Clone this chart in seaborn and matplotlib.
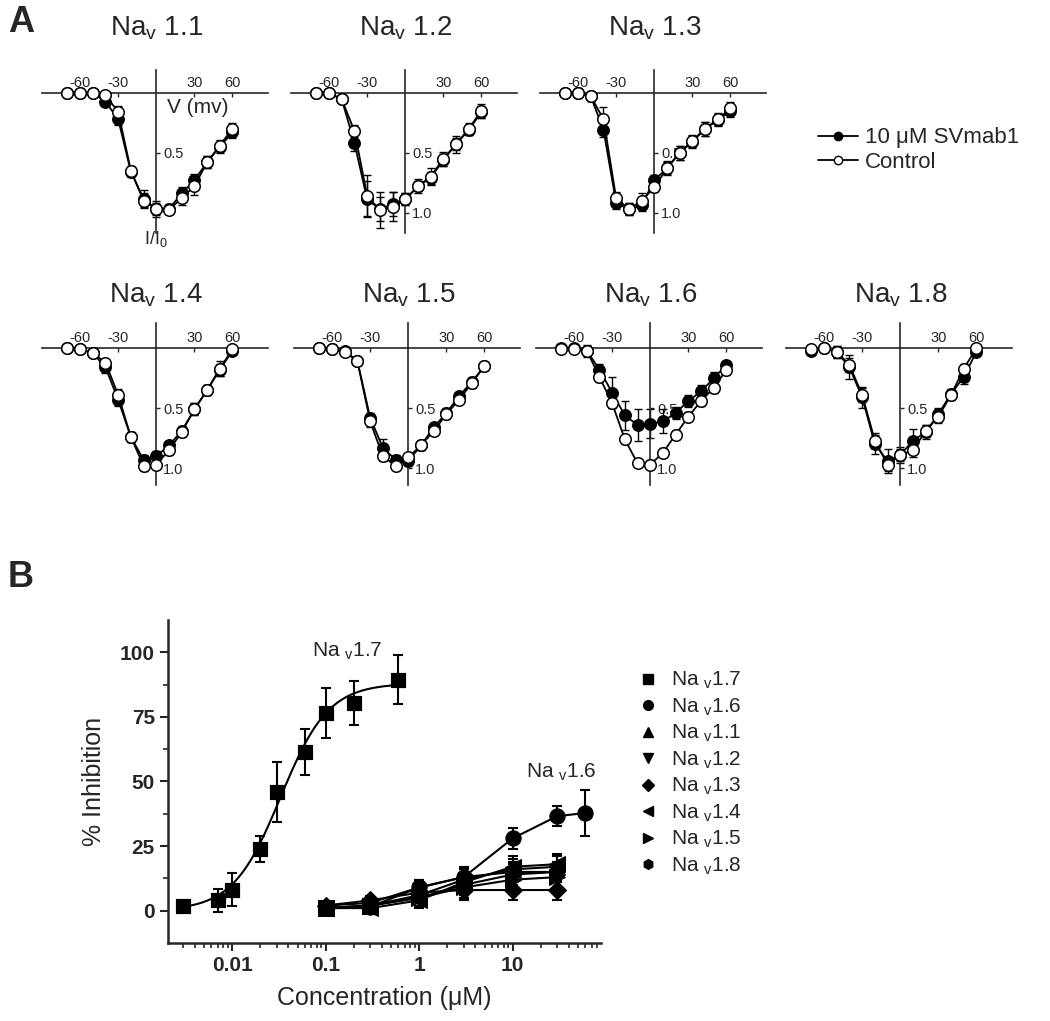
import numpy as np
import matplotlib
matplotlib.use("Agg")
import matplotlib.pyplot as plt
import matplotlib.transforms as mtransforms
from matplotlib.lines import Line2D
import seaborn as sns

sns.set_theme(style="ticks")
plt.rcParams['font.family'] = ['Liberation Sans', 'DejaVu Sans']
plt.rcParams['mathtext.fontset'] = 'custom'
plt.rcParams['mathtext.rm'] = 'Liberation Sans'
plt.rcParams['mathtext.it'] = 'Liberation Sans:italic'
plt.rcParams['mathtext.bf'] = 'Liberation Sans:bold'

# ---------------- Panel A data (normalised current I/I0) ----------------
voltages = [-70, -60, -50, -40, -30, -20, -10, 0, 10, 20, 30, 40, 50, 60]

nav11_ctrl = [0.0, 0.0, 0.0, 0.02, 0.16, 0.65, 0.90, 0.97, 0.975, 0.88, 0.78, 0.58, 0.44, 0.30]
nav11_ctrl_err = [0, 0, 0, 0.03, 0.05, 0.04, 0.06, 0.05, 0.04, 0.06, 0.07, 0.05, 0.05, 0.05]
nav11_sv = [0.0, 0.0, 0.0, 0.075, 0.22, 0.66, 0.885, 0.97, 0.97, 0.84, 0.73, 0.58, 0.45, 0.33]
nav11_sv_err = [0, 0, 0, 0.03, 0.05, 0.04, 0.07, 0.07, 0.04, 0.05, 0.05, 0.05, 0.05, 0.05]

nav12_ctrl = [0.0, 0.0, 0.056, 0.32, 0.86, 0.98, 0.95, 0.89, 0.78, 0.70, 0.55, 0.43, 0.30, 0.15]
nav12_ctrl_err = [0, 0, 0.03, 0.05, 0.17, 0.15, 0.12, 0.05, 0.06, 0.07, 0.06, 0.07, 0.05, 0.06]
nav12_sv = [0.0, 0.0, 0.056, 0.42, 0.89, 0.97, 0.93, 0.89, 0.78, 0.71, 0.56, 0.43, 0.31, 0.16]
nav12_sv_err = [0, 0, 0.03, 0.07, 0.15, 0.10, 0.10, 0.05, 0.04, 0.05, 0.05, 0.05, 0.04, 0.05]

nav13_ctrl = [0.0, 0.0, 0.03, 0.22, 0.88, 0.97, 0.90, 0.79, 0.63, 0.50, 0.40, 0.30, 0.22, 0.13]
nav13_ctrl_err = [0, 0.04, 0.04, 0.10, 0.05, 0.05, 0.06, 0.04, 0.06, 0.06, 0.05, 0.06, 0.05, 0.05]
nav13_sv = [0.0, 0.0, 0.03, 0.31, 0.92, 0.97, 0.94, 0.73, 0.63, 0.50, 0.41, 0.30, 0.23, 0.15]
nav13_sv_err = [0, 0.03, 0.04, 0.06, 0.05, 0.05, 0.05, 0.04, 0.05, 0.06, 0.05, 0.06, 0.05, 0.05]

nav14_ctrl = [0.0, 0.01, 0.04, 0.12, 0.39, 0.74, 0.98, 0.97, 0.85, 0.70, 0.51, 0.35, 0.17, 0.01]
nav14_ctrl_err = [0, 0.02, 0.03, 0.03, 0.05, 0.04, 0.04, 0.04, 0.04, 0.04, 0.05, 0.04, 0.06, 0.02]
nav14_sv = [0.0, 0.01, 0.04, 0.16, 0.43, 0.74, 0.93, 0.90, 0.81, 0.69, 0.51, 0.35, 0.18, 0.02]
nav14_sv_err = [0, 0.02, 0.03, 0.05, 0.05, 0.04, 0.04, 0.04, 0.04, 0.04, 0.05, 0.04, 0.05, 0.02]

nav15_ctrl = [0.0, 0.01, 0.03, 0.11, 0.61, 0.90, 0.98, 0.91, 0.81, 0.69, 0.55, 0.43, 0.29, 0.15]
nav15_ctrl_err = [0, 0, 0.03, 0.03, 0.05, 0.04, 0.03, 0.04, 0.04, 0.03, 0.04, 0.03, 0.04, 0.02]
nav15_sv = [0.0, 0.01, 0.02, 0.11, 0.58, 0.83, 0.93, 0.94, 0.81, 0.66, 0.54, 0.40, 0.28, 0.15]
nav15_sv_err = [0, 0, 0.03, 0.03, 0.04, 0.07, 0.04, 0.04, 0.04, 0.03, 0.04, 0.03, 0.04, 0.02]

nav16_ctrl = [0.01, 0.01, 0.02, 0.24, 0.46, 0.76, 0.96, 0.97, 0.87, 0.72, 0.57, 0.44, 0.33, 0.18]
nav16_ctrl_err = [0, 0.02, 0.03, 0.04, 0.04, 0.04, 0.03, 0.04, 0.04, 0.04, 0.04, 0.04, 0.04, 0.04]
nav16_sv = [0.0, 0.0, 0.02, 0.18, 0.37, 0.56, 0.64, 0.63, 0.61, 0.54, 0.44, 0.36, 0.25, 0.14]
nav16_sv_err = [0, 0.02, 0.05, 0.05, 0.13, 0.12, 0.13, 0.12, 0.10, 0.05, 0.05, 0.05, 0.05, 0.03]

nav18_ctrl = [0.01, 0.0, 0.03, 0.14, 0.39, 0.77, 0.97, 0.89, 0.85, 0.69, 0.57, 0.39, 0.17, 0.0]
nav18_ctrl_err = [0, 0.01, 0.05, 0.06, 0.06, 0.06, 0.05, 0.05, 0.06, 0.05, 0.05, 0.04, 0.04, 0.02]
nav18_sv = [0.02, 0.0, 0.03, 0.16, 0.41, 0.80, 0.94, 0.89, 0.77, 0.70, 0.55, 0.38, 0.24, 0.03]
nav18_sv_err = [0, 0.02, 0.05, 0.10, 0.09, 0.08, 0.10, 0.07, 0.10, 0.06, 0.05, 0.04, 0.06, 0.03]

# ---------------- Panel B data (% inhibition) ----------------
conc_17 = [0.003, 0.007, 0.01, 0.02, 0.03, 0.06, 0.1, 0.2, 0.6]
inh_17 = [2, 4, 8.2, 24, 46, 61.5, 76.4, 80.3, 89.4]
err_17 = [1, 4.5, 6.5, 5, 11.5, 9, 9.7, 8.4, 9.5]
hill_top, hill_ic50, hill_n = 88.0, 0.033, 1.7

conc_16 = [0.1, 0.3, 1, 3, 10, 30, 60]
inh_16 = [1, 1.5, 9, 13, 28, 36.6, 37.8]
err_16 = [1, 1, 3, 4, 4, 4, 9]

conc_other = [0.1, 0.3, 1, 3, 10, 30]
inh_11 = [1, 2, 6, 12, 16, 17]
inh_12 = [1, 2, 5, 10, 14, 15]
inh_13 = [2, 4, 7, 8, 8, 8]
inh_14 = [1, 1, 4, 11, 17, 18]
inh_15 = [1, 2, 5, 9, 12, 13]
inh_18 = [2, 3, 9, 13, 15, 15]
err_other = [1, 1.5, 3, 4, 4, 4]

# ---------------- Figure ----------------
W, H = 1050, 1021
fig = plt.figure(figsize=(W / 100, H / 100), dpi=100)
fig.patch.set_facecolor('white')

XMIN, XMAX = -90, 88
AX_W = 226

panelA = [
    ("1.1", nav11_ctrl, nav11_ctrl_err, nav11_sv, nav11_sv_err, 42, 70, 163, (1.17, -0.19)),
    ("1.2", nav12_ctrl, nav12_ctrl_err, nav12_sv, nav12_sv_err, 291, 70, 163, (1.17, -0.19)),
    ("1.3", nav13_ctrl, nav13_ctrl_err, nav13_sv, nav13_sv_err, 540, 70, 163, (1.17, -0.19)),
    ("1.4", nav14_ctrl, nav14_ctrl_err, nav14_sv, nav14_sv_err, 42, 323, 162, (1.14, -0.21)),
    ("1.5", nav15_ctrl, nav15_ctrl_err, nav15_sv, nav15_sv_err, 294, 323, 162, (1.14, -0.21)),
    ("1.6", nav16_ctrl, nav16_ctrl_err, nav16_sv, nav16_sv_err, 536, 323, 162, (1.14, -0.21)),
    ("1.8", nav18_ctrl, nav18_ctrl_err, nav18_sv, nav18_sv_err, 786, 323, 162, (1.14, -0.21)),
]

for name, ctrl, ctrl_err, sv, sv_err, left, top, hgt, ylim in panelA:
    ax = fig.add_axes([left / W, 1 - (top + hgt) / H, AX_W / W, hgt / H])
    ax.set_facecolor('none')
    ax.errorbar(voltages, sv, yerr=sv_err, fmt='none', ecolor='black',
                elinewidth=1.0, capsize=2.8, capthick=1.0, zorder=2)
    ax.errorbar(voltages, ctrl, yerr=ctrl_err, fmt='none', ecolor='black',
                elinewidth=1.0, capsize=2.8, capthick=1.0, zorder=2)
    sns.lineplot(x=voltages, y=sv, ax=ax, color='black', lw=1.3, marker='o',
                 markersize=8.3, markerfacecolor='black', markeredgecolor='black',
                 markeredgewidth=1.0, zorder=3)
    sns.lineplot(x=voltages, y=ctrl, ax=ax, color='black', lw=1.3, marker='o',
                 markersize=8.3, markerfacecolor='white', markeredgecolor='black',
                 markeredgewidth=1.1, zorder=4)
    ax.set_xlim(XMIN, XMAX)
    ax.set_ylim(*ylim)
    for s in ['bottom', 'left']:
        ax.spines[s].set_visible(False)
    ax.spines['top'].set_position(('data', 0))
    ax.spines['right'].set_position(('data', 0))
    ax.spines['top'].set_linewidth(1.2)
    ax.spines['right'].set_linewidth(1.2)
    ax.xaxis.set_ticks_position('top')
    ax.yaxis.set_ticks_position('right')
    ax.set_xticks([-60, -30, 30, 60])
    ax.set_xticklabels(['-60', '-30', '30', '60'])
    ax.set_yticks([0.5, 1.0])
    if name == "1.1":
        ax.set_yticklabels(['0.5', ''])
    else:
        ax.set_yticklabels(['0.5', '1.0'])
    ax.tick_params(axis='x', direction='in', length=3, width=1, labelsize=10.5, pad=2)
    ax.tick_params(axis='y', direction='out', length=3, width=1, labelsize=10.5, pad=2)
    ax.set_xlabel('')
    ax.set_ylabel('')
    tr = mtransforms.blended_transform_factory(ax.transData, fig.transFigure)
    ty = 28 if top < 200 else 295
    ax.text(0, 1 - ty / H, r'Na$_\mathregular{v}$ ' + name, transform=tr,
            ha='center', va='center', fontsize=20)
    if name == "1.1":
        ax.text(33, 0.125, 'V (mv)', ha='center', va='center', fontsize=15)
        ax.text(0, 1.22, r'I/I$_\mathregular{0}$', ha='center', va='center',
                fontsize=13, clip_on=False)

handlesA = [
    Line2D([], [], color='black', lw=1.3, marker='o', markersize=6,
           markerfacecolor='black', markeredgecolor='black'),
    Line2D([], [], color='black', lw=1.3, marker='o', markersize=6,
           markerfacecolor='white', markeredgecolor='black'),
]
fig.legend(handlesA, [u'10 \u03bcM SVmab1', 'Control'], loc='center left',
           bbox_to_anchor=(818 / W, 1 - 150 / H), frameon=False, fontsize=16,
           handlelength=1.8, handletextpad=0.3, labelspacing=0.15,
           borderaxespad=0, borderpad=0)

# ---------------- Panel B ----------------
axB = fig.add_axes([168 / W, 1 - 943 / H, 433 / W, 323 / H])
axB.set_facecolor('none')
axB.set_xscale('log')

others = [
    (conc_other, inh_11, err_other, '^'),
    (conc_other, inh_12, err_other, 'v'),
    (conc_other, inh_13, err_other, 'D'),
    (conc_other, inh_14, err_other, '<'),
    (conc_other, inh_15, err_other, '>'),
    (conc_other, inh_18, err_other, 'h'),
    (conc_16, inh_16, err_16, 'o'),
]
for c, v, e, m in others:
    axB.errorbar(c, v, yerr=e, fmt='none', ecolor='black', elinewidth=1.5,
                 capsize=3.5, capthick=1.5, zorder=2)
    ms = 9 if m == 'D' else 11
    sns.lineplot(x=c, y=v, ax=axB, color='black', lw=1.5, marker=m,
                 markersize=ms, markerfacecolor='black', markeredgecolor='black', zorder=3)

fit_x = np.logspace(np.log10(conc_17[0]), np.log10(conc_17[-1]), 200)
fit_y = hill_top / (1 + (hill_ic50 / fit_x) ** hill_n)
sns.lineplot(x=fit_x, y=fit_y, ax=axB, color='black', lw=1.5, zorder=2)
axB.errorbar(conc_17, inh_17, yerr=err_17, fmt='none', ecolor='black',
             elinewidth=1.5, capsize=3.5, capthick=1.5, zorder=2)
sns.scatterplot(x=conc_17, y=inh_17, ax=axB, marker='s', s=115, color='black',
                edgecolor='black', zorder=4)

axB.set_xlim(0.00206, 88)
axB.set_ylim(-12.5, 112.5)
sns.despine(ax=axB)
axB.spines['left'].set_linewidth(1.8)
axB.spines['bottom'].set_linewidth(1.8)
axB.set_xticks([0.01, 0.1, 1, 10])
axB.set_xticklabels(['0.01', '0.1', '1', '10'])
axB.xaxis.set_minor_locator(matplotlib.ticker.LogLocator(base=10, subs=np.arange(2, 10)))
axB.xaxis.set_minor_formatter(matplotlib.ticker.NullFormatter())
axB.set_yticks([0, 25, 50, 75, 100])
axB.set_yticks([12.5, 37.5, 62.5, 87.5], minor=True)
axB.tick_params(axis='both', which='major', direction='out', length=6, width=1.5,
                labelsize=15)
axB.tick_params(axis='both', which='minor', direction='out', length=3.5, width=1.2)
for lab in axB.get_xticklabels() + axB.get_yticklabels():
    lab.set_fontweight('bold')
axB.set_xlabel(u'Concentration (\u03bcM)', fontsize=18, labelpad=8)
axB.set_ylabel('% Inhibition', fontsize=18, labelpad=10)

axB.text(0.17, 100.5, r'Na $_\mathregular{v}$1.7', ha='center', va='center', fontsize=15)
axB.text(33, 53.7, r'Na $_\mathregular{v}$1.6', ha='center', va='center', fontsize=15)

legB_markers = ['s', 'o', '^', 'v', 'D', '<', '>', 'h']
legB_labels = ['1.7', '1.6', '1.1', '1.2', '1.3', '1.4', '1.5', '1.8']
handlesB = [Line2D([], [], ls='none', marker=m, color='black',
                   markersize=(6 if m == 'D' else 7)) for m in legB_markers]
fig.legend(handlesB, [r'Na $_\mathregular{v}$' + l for l in legB_labels],
           loc='upper left', bbox_to_anchor=(638 / W, 1 - 670 / H), frameon=False,
           fontsize=15, handlelength=1.0, handletextpad=0.6, labelspacing=0.25,
           borderaxespad=0, borderpad=0)

fig.text(8 / W, 1 - 5 / H, 'A', fontsize=26, fontweight='bold', ha='left', va='top')
fig.text(8 / W, 1 - 560 / H, 'B', fontsize=26, fontweight='bold', ha='left', va='top')

fig.savefig('out.png', dpi=100, facecolor='white')
